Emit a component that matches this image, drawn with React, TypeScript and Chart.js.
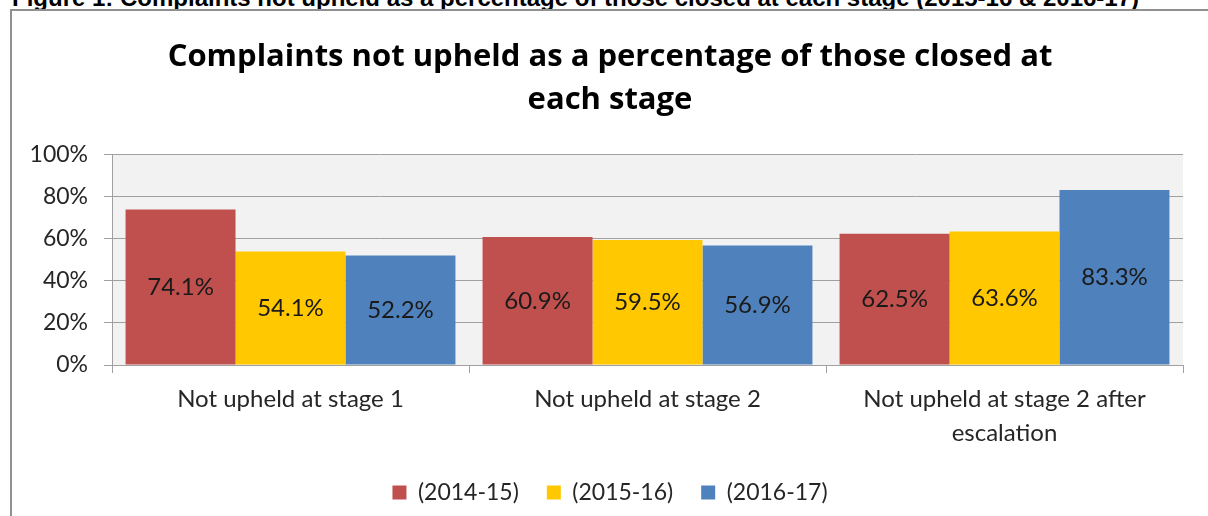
import React, { useEffect, useRef } from "react";
import { Chart, registerables } from "chart.js";

Chart.register(...registerables);

const captionText =
  "Figure 1: Complaints not upheld as a percentage of those closed at each stage (2015-16 & 2016-17)";
const titleLines = [
  "Complaints not upheld as a percentage of those closed at",
  "each stage",
];
const categories = [
  ["Not upheld at stage 1"],
  ["Not upheld at stage 2"],
  ["Not upheld at stage 2 after", "escalation"],
];
const seriesNames = ["(2014-15)", "(2015-16)", "(2016-17)"];
const values201415 = [74.1, 60.9, 62.5];
const values201516 = [54.1, 59.5, 63.6];
const values201617 = [52.2, 56.9, 83.3];
const seriesColors = ["#C0504D", "#FFC800", "#4F81BD"];
const yMin = 0;
const yMax = 100;
const yStep = 20;

const FONT = "Lato, 'Open Sans', sans-serif";
const TITLE_FONT = "'Open Sans', Lato, sans-serif";
const GRID = "#a0a0a0";
const TEXT = "#262626";

const plotBgPlugin = {
  id: "plotBg",
  beforeDraw(chart: any) {
    const { ctx, chartArea } = chart;
    ctx.save();
    ctx.fillStyle = "#F2F2F2";
    ctx.fillRect(chartArea.left, chartArea.top, chartArea.right - chartArea.left, chartArea.bottom - chartArea.top);
    ctx.restore();
  },
};

const dataLabelPlugin = {
  id: "dataLabels",
  afterDatasetsDraw(chart: any) {
    const { ctx } = chart;
    ctx.save();
    ctx.font = `24px ${FONT}`;
    ctx.fillStyle = "#1a1a1a";
    ctx.textAlign = "center";
    ctx.textBaseline = "middle";
    chart.data.datasets.forEach((ds: any, i: number) => {
      const meta = chart.getDatasetMeta(i);
      meta.data.forEach((bar: any, j: number) => {
        const { x, y, base } = bar.getProps(["x", "y", "base"], true);
        ctx.fillText(ds.data[j].toFixed(1) + "%", x, (y + base) / 2);
      });
    });
    ctx.restore();
  },
};

export default function App() {
  const ref = useRef<HTMLCanvasElement>(null);
  useEffect(() => {
    const seriesValues = [values201415, values201516, values201617];
    const chart = new Chart(ref.current as HTMLCanvasElement, {
      type: "bar",
      data: {
        labels: categories as any,
        datasets: seriesNames.map((name, i) => ({
          label: name,
          data: seriesValues[i],
          backgroundColor: seriesColors[i],
          borderWidth: 0,
          categoryPercentage: 0.924,
          barPercentage: 1,
        })),
      },
      options: {
        responsive: false,
        animation: false,
        devicePixelRatio: 1,
        layout: { padding: { left: 12, right: 0, top: 0, bottom: 2 } },
        plugins: {
          title: {
            display: true,
            text: titleLines,
            color: "#000",
            font: { family: TITLE_FONT, size: 31, weight: "bold", lineHeight: 1.387 },
            padding: { top: 36, bottom: 33 },
          },
          legend: {
            position: "bottom",
            labels: {
              boxWidth: 14,
              boxHeight: 14,
              padding: 28,
              color: TEXT,
              font: { family: FONT, size: 23 },
            },
          },
          tooltip: { enabled: false },
        },
        scales: {
          x: {
            grid: {
              drawOnChartArea: false,
              drawTicks: true,
              tickLength: 8,
              color: GRID,
              offset: true,
            },
            border: { color: GRID },
            ticks: {
              color: TEXT,
              padding: 9,
              font: { family: FONT, size: 24, lineHeight: 1.42 },
              maxRotation: 0,
            },
            afterFit: (s: any) => {
              s.height = 88;
            },
          },
          y: {
            min: yMin,
            max: yMax,
            ticks: {
              stepSize: yStep,
              color: TEXT,
              padding: 16,
              font: { family: FONT, size: 23 },
              callback: (v: any) => v + "%",
            },
            grid: { color: GRID, tickLength: 8 },
            border: { color: GRID },
            afterFit: (s: any) => {
              s.width = 100;
            },
          },
          spacer: {
            type: "linear",
            position: "right",
            display: true,
            grid: { display: false, drawTicks: false },
            border: { display: false },
            ticks: { display: false },
            afterFit: (s: any) => {
              s.width = 25;
            },
          },
        },
      },
      plugins: [plotBgPlugin, dataLabelPlugin],
    });
    return () => chart.destroy();
  }, []);

  return (
    <div
      style={{
        position: "fixed",
        left: 0,
        top: 0,
        width: 1208,
        height: 516,
        overflow: "hidden",
        background: "#fff",
      }}
    >
      <div
        style={{
          position: "absolute",
          left: 12,
          top: -14,
          font: 'bold 24px "Liberation Sans", Arial, sans-serif',
          lineHeight: "24px",
          whiteSpace: "nowrap",
          color: "#000",
        }}
      >
        {captionText}
      </div>
      <div
        style={{
          position: "absolute",
          left: 10,
          top: 9,
          width: 1300,
          height: 600,
          border: "2px solid #909090",
          boxSizing: "border-box",
        }}
      />
      <canvas
        ref={ref}
        width={1208}
        height={516}
        style={{ position: "absolute", left: 0, top: 0, width: 1208, height: 516 }}
      />
    </div>
  );
}
